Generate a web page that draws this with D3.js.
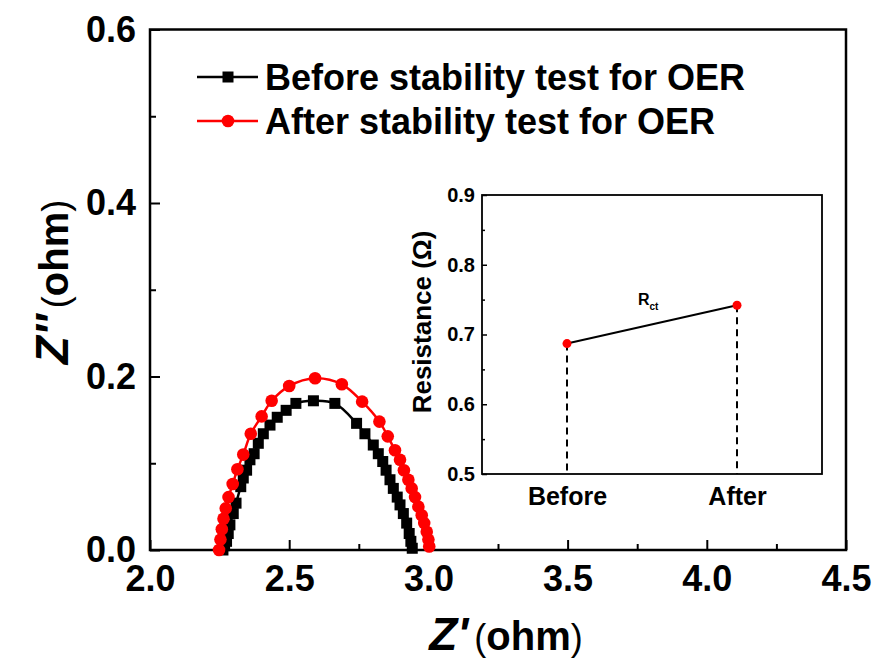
<!DOCTYPE html>
<html>
<head>
<meta charset="utf-8">
<script src="https://cdn.jsdelivr.net/npm/d3@7"></script>
<style>
  html, body { margin: 0; padding: 0; background: #fff; }
  svg { display: block; font-family: "Liberation Sans", Arial, sans-serif; }
</style>
</head>
<body>
<svg id="chart" width="878" height="663"></svg>
<script>
// Nyquist data (Z' and -Z'' in ohm)
const beforeZre = [2.262, 2.268, 2.275, 2.281, 2.287, 2.299, 2.309, 2.326, 2.335, 2.347, 2.359, 2.374, 2.389, 2.407, 2.431, 2.457, 2.489, 2.524, 2.587,
                   2.664, 2.742, 2.772, 2.802, 2.820, 2.836, 2.848, 2.862, 2.874, 2.888, 2.898, 2.910, 2.922, 2.931, 2.937, 2.942];
const beforeZim = [0.000, 0.005, 0.010, 0.019, 0.029, 0.042, 0.054, 0.073, 0.083, 0.092, 0.104, 0.111, 0.123, 0.134, 0.144, 0.153, 0.161, 0.169, 0.172,
                   0.169, 0.146, 0.134, 0.121, 0.111, 0.102, 0.092, 0.081, 0.071, 0.061, 0.052, 0.042, 0.031, 0.019, 0.010, 0.002];
const afterZre = [2.248, 2.253, 2.258, 2.264, 2.272, 2.282, 2.297, 2.314, 2.335, 2.362, 2.401, 2.437, 2.500, 2.593,
                  2.689, 2.762, 2.824, 2.854, 2.880, 2.898, 2.912, 2.928, 2.940, 2.952, 2.964, 2.976, 2.985, 2.994, 3.000, 3.003];
const afterZim = [0.000, 0.012, 0.024, 0.036, 0.048, 0.061, 0.076, 0.093, 0.110, 0.134, 0.154, 0.172, 0.189, 0.198,
                  0.191, 0.171, 0.148, 0.131, 0.115, 0.104, 0.092, 0.081, 0.071, 0.061, 0.050, 0.040, 0.031, 0.021, 0.012, 0.004];
const seriesNames = ["Before stability test for OER", "After stability test for OER"];

const xMajorTicks = [2.0, 2.5, 3.0, 3.5, 4.0, 4.5];
const xMinorTicks = [2.25, 2.75, 3.25, 3.75, 4.25];
const yMajorTicks = [0.0, 0.2, 0.4, 0.6];
const yMinorTicks = [0.1, 0.3, 0.5];

// Inset: charge-transfer resistance
const insetCategories = ["Before", "After"];
const rctValues = [0.687, 0.742];
const insetYMajorTicks = [0.5, 0.6, 0.7, 0.8, 0.9];
const insetYMinorTicks = [0.55, 0.65, 0.75, 0.85];

const svg = d3.select("#chart");

// ---------- main plot ----------
const x = d3.scaleLinear().domain([2.0, 4.5]).range([150, 846]);
const y = d3.scaleLinear().domain([0, 0.6]).range([550, 29.5]);

const tickFont = g => g.selectAll("text")
  .attr("font-size", 36).attr("font-weight", "bold").attr("fill", "#000")
  .attr("font-family", "'Liberation Sans', Arial, sans-serif");

svg.append("g").attr("transform", `translate(0,${y(0)})`)
  .call(d3.axisBottom(x).tickValues(xMinorTicks).tickSizeInner(-6).tickSizeOuter(0).tickFormat(""))
  .call(g => g.select(".domain").remove())
  .call(g => g.selectAll("line").attr("stroke-width", 2));
svg.append("g").attr("transform", `translate(0,${y(0)})`)
  .call(d3.axisBottom(x).tickValues(xMajorTicks).tickSizeInner(-10).tickSizeOuter(0).tickPadding(15).tickFormat(d3.format(".1f")))
  .call(g => g.select(".domain").remove())
  .call(g => g.selectAll("line").attr("stroke-width", 2))
  .call(tickFont);

svg.append("g").attr("transform", `translate(${x(2.0)},0)`)
  .call(d3.axisLeft(y).tickValues(yMinorTicks).tickSizeInner(-6).tickSizeOuter(0).tickFormat(""))
  .call(g => g.select(".domain").remove())
  .call(g => g.selectAll("line").attr("stroke-width", 2));
svg.append("g").attr("transform", `translate(${x(2.0)},0)`)
  .call(d3.axisLeft(y).tickValues(yMajorTicks).tickSizeInner(-10).tickSizeOuter(0).tickPadding(14).tickFormat(d3.format(".1f")))
  .call(g => g.select(".domain").remove())
  .call(g => g.selectAll("line").attr("stroke-width", 2))
  .call(tickFont);

// frame
svg.append("rect")
  .attr("x", x(2.0)).attr("y", y(0.6))
  .attr("width", x(4.5) - x(2.0)).attr("height", y(0) - y(0.6))
  .attr("fill", "none").attr("stroke", "#000").attr("stroke-width", 2.5);

// curves
const line = d3.line().x(d => x(d[0])).y(d => y(d[1])).curve(d3.curveCatmullRom);
const beforePts = beforeZre.map((v, i) => [v, beforeZim[i]]);
const afterPts = afterZre.map((v, i) => [v, afterZim[i]]);

svg.append("path").datum(beforePts).attr("d", line)
  .attr("fill", "none").attr("stroke", "#000").attr("stroke-width", 2.5);
svg.append("g").selectAll("rect").data(beforePts).join("rect")
  .attr("x", d => x(d[0]) - 5.5).attr("y", d => y(d[1]) - 5.5)
  .attr("width", 11).attr("height", 11).attr("fill", "#000");

svg.append("path").datum(afterPts).attr("d", line)
  .attr("fill", "none").attr("stroke", "#ff0000").attr("stroke-width", 2.5);
svg.append("g").selectAll("circle").data(afterPts).join("circle")
  .attr("cx", d => x(d[0])).attr("cy", d => y(d[1])).attr("r", 6.3)
  .attr("fill", "#ff0000");

// legend
const legend = svg.append("g");
const legendRows = [
  { name: seriesNames[0], color: "#000", marker: "square", yPos: 77 },
  { name: seriesNames[1], color: "#ff0000", marker: "circle", yPos: 121 }
];
legendRows.forEach(r => {
  legend.append("line").attr("x1", 197).attr("x2", 258).attr("y1", r.yPos).attr("y2", r.yPos)
    .attr("stroke", r.color).attr("stroke-width", 2.5);
  if (r.marker === "square") {
    legend.append("rect").attr("x", 222.5).attr("y", r.yPos - 5.5).attr("width", 11).attr("height", 11).attr("fill", r.color);
  } else {
    legend.append("circle").attr("cx", 228).attr("cy", r.yPos).attr("r", 6.3).attr("fill", r.color);
  }
  legend.append("text").attr("x", 265).attr("y", r.yPos + 13)
    .attr("font-size", 36).attr("font-weight", "bold").text(r.name);
});

// axis titles
const xt = svg.append("text").attr("x", 506).attr("y", 650).attr("text-anchor", "middle");
xt.append("tspan").attr("font-size", 46).attr("font-weight", "bold").attr("font-style", "italic").text("Z'");
xt.append("tspan").attr("font-size", 36).attr("font-weight", "normal").attr("dx", 6).text("(");
xt.append("tspan").attr("font-size", 40).attr("font-weight", "bold").text("ohm");
xt.append("tspan").attr("font-size", 36).attr("font-weight", "normal").text(")");

const yt = svg.append("text").attr("transform", "translate(68,282) rotate(-90)").attr("text-anchor", "middle");
yt.append("tspan").attr("font-size", 46).attr("font-weight", "bold").attr("font-style", "italic").text("Z''");
yt.append("tspan").attr("font-size", 36).attr("font-weight", "normal").attr("dx", 6).text("(");
yt.append("tspan").attr("font-size", 40).attr("font-weight", "bold").text("ohm");
yt.append("tspan").attr("font-size", 36).attr("font-weight", "normal").text(")");

// ---------- inset ----------
const ix = d3.scalePoint().domain(insetCategories).range([482, 822]).padding(0.5);
const iy = d3.scaleLinear().domain([0.5, 0.9]).range([474, 195]);

svg.append("rect").attr("x", 482).attr("y", iy(0.9))
  .attr("width", 340).attr("height", iy(0.5) - iy(0.9))
  .attr("fill", "#fff").attr("stroke", "#000").attr("stroke-width", 1.8);

svg.append("g").attr("transform", "translate(482,0)")
  .call(d3.axisLeft(iy).tickValues(insetYMinorTicks).tickSizeInner(-3).tickSizeOuter(0).tickFormat(""))
  .call(g => g.select(".domain").remove())
  .call(g => g.selectAll("line").attr("stroke-width", 1.5));
svg.append("g").attr("transform", "translate(482,0)")
  .call(d3.axisLeft(iy).tickValues(insetYMajorTicks).tickSizeInner(-5).tickSizeOuter(0).tickPadding(7).tickFormat(d3.format(".1f")))
  .call(g => g.select(".domain").remove())
  .call(g => g.selectAll("line").attr("stroke-width", 1.5))
  .call(g => g.selectAll("text").attr("font-size", 20).attr("font-weight", "bold").attr("fill", "#000"));

svg.append("g").attr("transform", `translate(0,${iy(0.5)})`)
  .call(d3.axisBottom(ix).tickSize(0).tickPadding(13))
  .call(g => g.select(".domain").remove())
  .call(g => g.selectAll("text").attr("font-size", 25).attr("font-weight", "bold").attr("fill", "#000"));

svg.append("text").attr("transform", "translate(431,322) rotate(-90)")
  .attr("text-anchor", "middle").attr("font-size", 26).attr("font-weight", "bold").text("Resistance (Ω)");

// drop lines
svg.append("g").selectAll("line").data(insetCategories).join("line")
  .attr("x1", d => ix(d)).attr("x2", d => ix(d))
  .attr("y1", (d, i) => iy(rctValues[i])).attr("y2", iy(0.5))
  .attr("stroke", "#000").attr("stroke-width", 2).attr("stroke-dasharray", "7,5");

const rctLine = d3.line().x((d, i) => ix(insetCategories[i])).y(d => iy(d));
svg.append("path").datum(rctValues).attr("d", rctLine)
  .attr("fill", "none").attr("stroke", "#000").attr("stroke-width", 2);
svg.append("g").selectAll("circle").data(rctValues).join("circle")
  .attr("cx", (d, i) => ix(insetCategories[i])).attr("cy", d => iy(d)).attr("r", 4.5)
  .attr("fill", "#ff0000");

const rl = svg.append("text").attr("x", 638).attr("y", 305).attr("font-weight", "bold");
rl.append("tspan").attr("font-size", 16).text("R");
rl.append("tspan").attr("font-size", 10).attr("dy", 5).text("ct");
</script>
</body>
</html>
